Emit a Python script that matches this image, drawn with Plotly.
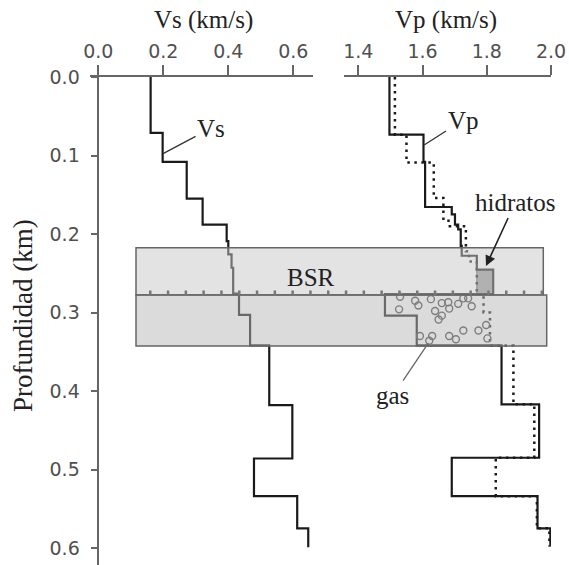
import plotly.graph_objects as go

# ---------------- data ----------------
# Vs profile (km/s) : layer top depths (km) and values
vs_tops = [0.0, 0.0713, 0.108, 0.155, 0.188, 0.209, 0.226, 0.243, 0.276, 0.303,
           0.342, 0.418, 0.486, 0.534, 0.575]
vs_vals = [0.161, 0.198, 0.272, 0.321, 0.395, 0.400, 0.410, 0.415, 0.433, 0.467,
           0.526, 0.597, 0.479, 0.612, 0.646]
vs_bottom = 0.599

# Vp profile, solid (km/s)
vp_tops = [0.0, 0.0735, 0.108, 0.1656, 0.175, 0.188, 0.194, 0.215, 0.2277, 0.2455,
           0.2765, 0.304, 0.342, 0.417, 0.485, 0.534, 0.575]
vp_vals = [1.497, 1.603, 1.608, 1.691, 1.701, 1.711, 1.719, 1.722, 1.769, 1.820,
           1.483, 1.582, 1.846, 1.963, 1.691, 1.958, 1.998]
vp_bottom = 0.598

# Vp profile, dotted (km/s)
vpd_tops = [0.0, 0.0735, 0.109, 0.154, 0.183, 0.19, 0.222, 0.235, 0.277, 0.30,
            0.342, 0.417, 0.485, 0.534, 0.575]
vpd_vals = [1.514, 1.550, 1.635, 1.665, 1.685, 1.735, 1.745, 1.769, 1.790, 1.810,
            1.883, 1.948, 1.828, 1.956, 1.995]
vpd_bottom = 0.598

# hydrate block (Vp range, depth range)
hyd_vp = [1.769, 1.820]
hyd_depth = [0.2455, 0.2765]

# gas bubbles (Vp, depth)
gas_vp = [1.530, 1.527, 1.577, 1.587, 1.626, 1.660, 1.680, 1.683, 1.711, 1.727, 1.742,
          1.753, 1.639, 1.660, 1.650, 1.592, 1.630, 1.621, 1.683, 1.704, 1.727, 1.774,
          1.798, 1.802]
gas_depth = [0.280, 0.296, 0.285, 0.291, 0.283, 0.288, 0.287, 0.295, 0.289, 0.282, 0.282,
             0.292, 0.298, 0.304, 0.309, 0.330, 0.330, 0.336, 0.330, 0.334, 0.323, 0.323,
             0.316, 0.333]

# zones (depth, km)
zone_top = 0.2175
bsr_depth = 0.2777
zone_bottom = 0.3427

vs_ticks = [0.0, 0.2, 0.4, 0.6]
vp_ticks = [1.4, 1.6, 1.8, 2.0]
depth_ticks = [0.0, 0.1, 0.2, 0.3, 0.4, 0.5, 0.6]


def steps(tops, vals, bottom):
    bots = tops[1:] + [bottom]
    xs, ys = [], []
    for v, t, b in zip(vals, tops, bots):
        xs += [v, v]
        ys += [t, b]
    return xs, ys


SERIF = "Liberation Serif, Times New Roman, serif"
SANS = "DejaVu Sans, Arial, sans-serif"
LINE = "#1a1a1a"

fig = go.Figure()

x, y = steps(vs_tops, vs_vals, vs_bottom)
fig.add_trace(go.Scatter(x=x, y=y, mode="lines", xaxis="x", yaxis="y",
                         line=dict(color=LINE, width=2.2), showlegend=False, hoverinfo="skip"))

# hydrate block
fig.add_trace(go.Scatter(x=[hyd_vp[0], hyd_vp[1], hyd_vp[1], hyd_vp[0], hyd_vp[0]],
                         y=[hyd_depth[0], hyd_depth[0], hyd_depth[1], hyd_depth[1], hyd_depth[0]],
                         mode="lines", fill="toself", fillcolor="#9a9a9a", xaxis="x2", yaxis="y",
                         line=dict(color="#555555", width=1), showlegend=False, hoverinfo="skip"))

x, y = steps(vpd_tops, vpd_vals, vpd_bottom)
fig.add_trace(go.Scatter(x=x, y=y, mode="lines", xaxis="x2", yaxis="y",
                         line=dict(color=LINE, width=2.5, dash="2.5px,4.5px"),
                         showlegend=False, hoverinfo="skip"))

x, y = steps(vp_tops, vp_vals, vp_bottom)
fig.add_trace(go.Scatter(x=x, y=y, mode="lines", xaxis="x2", yaxis="y",
                         line=dict(color=LINE, width=2.2), showlegend=False, hoverinfo="skip"))

fig.add_trace(go.Scatter(x=gas_vp, y=gas_depth, mode="markers", xaxis="x2", yaxis="y",
                         marker=dict(symbol="circle-open", size=7, color="#444444",
                                     line=dict(width=1.4, color="#444444")),
                         showlegend=False, hoverinfo="skip"))

# ---------------- layout geometry ----------------
W, H = 569, 565
L, R, T, B = 90, 18, 77, 0
pw = W - L - R
ph = H - T - B

def px_to_paper_x(px):
    return (px - L) / pw

def py_to_paper_y(py):
    return (H - B - py) / ph

shapes = [
    dict(type="rect", xref="paper", yref="y", x0=px_to_paper_x(136), x1=px_to_paper_x(543.3),
         y0=zone_top, y1=bsr_depth, fillcolor="rgba(200,200,200,0.5)",
         line=dict(color="#666666", width=1.5), layer="above"),
    dict(type="rect", xref="paper", yref="y", x0=px_to_paper_x(136), x1=px_to_paper_x(546.7),
         y0=bsr_depth, y1=zone_bottom, fillcolor="rgba(184,184,184,0.5)",
         line=dict(color="#666666", width=1.5), layer="above"),
    dict(type="line", xref="paper", yref="y", x0=px_to_paper_x(149), x1=px_to_paper_x(545),
         y0=bsr_depth - 0.003, y1=bsr_depth - 0.003,
         line=dict(color="#777777", width=4.5, dash="2.5px,15.3px"), layer="above"),
]

title_font = dict(family=SERIF, size=25, color="#222")
annotations = [
    dict(text="Vs (km/s)", xref="paper", yref="paper", x=px_to_paper_x(203),
         y=py_to_paper_y(20), xanchor="center", yanchor="middle", showarrow=False,
         font=title_font),
    dict(text="Vp (km/s)", xref="paper", yref="paper", x=px_to_paper_x(445.5),
         y=py_to_paper_y(20), xanchor="center", yanchor="middle", showarrow=False,
         font=title_font),
    dict(text="Profundidad (km)", xref="paper", yref="paper", x=px_to_paper_x(23),
         y=py_to_paper_y(316), xanchor="center", yanchor="middle", showarrow=False,
         textangle=-90, font=dict(family=SERIF, size=27, color="#222")),
    dict(text="Vs", xref="x", yref="y", x=0.198, y=0.098, axref="x", ayref="y",
         ax=0.347, ay=0.065, showarrow=True, arrowhead=0, arrowwidth=1.3, arrowcolor="#333",
         font=title_font),
    dict(text="Vp", xref="x2", yref="y", x=1.605, y=0.0866, axref="x2", ayref="y",
         ax=1.726, ay=0.0548, showarrow=True, arrowhead=0, arrowwidth=1.3, arrowcolor="#333",
         font=title_font),
    dict(text="hidratos", xref="x2", yref="y", x=1.7976, y=0.2408, axref="x2", ayref="y",
         ax=1.888, ay=0.1605, showarrow=True, arrowhead=2, arrowsize=1.3, arrowwidth=1.6,
         arrowcolor="#222", font=title_font),
    dict(text="gas", xref="x2", yref="y", x=1.618, y=0.339, axref="x2", ayref="y",
         ax=1.508, ay=0.406, showarrow=True, arrowhead=0, arrowwidth=1.3, arrowcolor="#666",
         font=title_font),
    dict(text="BSR", xref="x", yref="y", x=0.654, y=0.256, showarrow=False,
         xanchor="center", yanchor="middle", font=title_font),
]

axis_common = dict(showgrid=False, zeroline=False, showline=True, linecolor="#666666",
                   linewidth=1.5, ticks="outside", tickcolor="#666666", tickwidth=1.5,
                   tickfont=dict(family=SANS, size=19, color="#505050"), automargin=False,
                   tickformat=".1f")

fig.update_layout(
    width=W, height=H,
    margin=dict(l=L, r=R, t=T, b=B),
    paper_bgcolor="white", plot_bgcolor="white",
    showlegend=False,
    xaxis=dict(domain=[0, px_to_paper_x(313)], range=[-0.0255, 0.6606], side="top",
               anchor="y", tickvals=vs_ticks, ticklen=10, **axis_common),
    xaxis2=dict(domain=[px_to_paper_x(344), 1.0], range=[1.3555, 2.0], side="top",
                anchor="y", tickvals=vp_ticks, ticklen=10, **axis_common),
    yaxis=dict(domain=[0, 1], range=[ph / 785.0, 0], anchor="free",
               position=px_to_paper_x(98.3), tickvals=depth_ticks, ticklen=7,
               ticklabelstandoff=7, **axis_common),
    shapes=shapes,
    annotations=annotations,
)

fig.write_html("out.html")
